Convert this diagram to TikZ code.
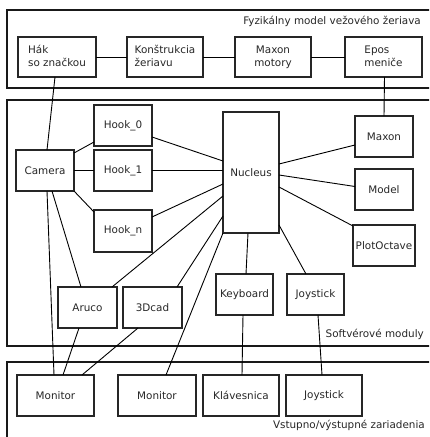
\documentclass[tikz,border=0pt]{standalone}
\usepackage{fontspec}
\setmainfont{DejaVu Sans}
\usetikzlibrary{calc}
\begin{document}
\begin{tikzpicture}[x=1pt,y=-1pt,
  box/.style={draw=black!85, line width=1.2pt, inner sep=0pt, outer sep=0pt, anchor=north west, align=center,
    font=\fontsize{10.4}{13}\selectfont, text=black!85},
  lbl/.style={inner sep=0pt, anchor=east, font=\fontsize{10.4}{13}\selectfont, text=black!85},
  frame/.style={draw=black!90, line width=2.6pt},
  conn/.style={draw=black, line width=0.9pt}]
\path[use as bounding box] (0,0) rectangle (429,437);
\begin{scope}
  \clip (0,0) rectangle (429,437);
  \draw[frame] (7,10) rectangle (445,88);
  \draw[frame] (7,100) rectangle (445,346);
  \draw[frame] (7,362) rectangle (445,460);
\end{scope}
\node[lbl] (t1) at (421,21) {Fyzikálny model vežového žeriava};
\node[lbl] (t2) at (424,334) {Softvérové moduly};
\node[lbl] (t3) at (425,425) {Vstupno/výstupné zariadenia};
% top row
\node[box, minimum width=78, minimum height=40] (hak) at (18,37) {\begin{tabular}{@{}l@{}}Hák\\so značkou\end{tabular}};
\node[box, minimum width=76, minimum height=40] (konst) at (127,37) {\begin{tabular}{@{}l@{}}Konštrukcia\\žeriavu\end{tabular}};
\node[box, minimum width=76, minimum height=40] (motory) at (235,37) {Maxon\\motory};
\node[box, minimum width=77, minimum height=40] (epos) at (345,37) {\begin{tabular}{@{}l@{}}Epos\\meniče\end{tabular}};
% software modules
\node[box, minimum width=58, minimum height=41] (hook0) at (94,105) {Hook\_0};
\node[box, minimum width=58, minimum height=41] (hook1) at (94,150) {Hook\_1};
\node[box, minimum width=58, minimum height=42] (hookn) at (94,210) {Hook\_n};
\node[box, minimum width=58, minimum height=41] (camera) at (16,150) {Camera};
\node[box, minimum width=56, minimum height=121] (nucleus) at (223,112) {Nucleus};
\node[box, minimum width=58, minimum height=41] (maxon) at (355,116) {Maxon};
\node[box, minimum width=58, minimum height=41] (model) at (355,169) {Model};
\node[box, minimum width=62, minimum height=41] (plot) at (353,225) {PlotOctave};
\node[box, minimum width=59, minimum height=41] (aruco) at (58,287) {Aruco};
\node[box, minimum width=59, minimum height=41] (dcad) at (123,287) {3Dcad};
\node[box, minimum width=57, minimum height=41] (keyboard) at (216,274) {Keyboard};
\node[box, minimum width=57, minimum height=41] (joystick) at (287,274) {Joystick};
% devices
\node[box, minimum width=77, minimum height=41] (mon1) at (17,375) {Monitor};
\node[box, minimum width=78, minimum height=41] (mon2) at (118,375) {Monitor};
\node[box, minimum width=76, minimum height=41] (klav) at (203,375) {Klávesnica};
\node[box, minimum width=76, minimum height=41] (joyio) at (286,375) {Joystick};
% connectors
\draw[conn] (hak.east) -- (konst.west);
\draw[conn] (konst.east) -- (motory.west);
\draw[conn] (motory.east) -- (epos.west);
\draw[conn] ($(hak.south)+(-2,0)$) -- ($(camera.north)+(2,0)$);
\draw[conn] ($(epos.south)+(1,0)$) -- (maxon.north);
\draw[conn] ($(camera.north east)+(0,3)$) -- ($(hook0.south west)+(0,-4)$);
\draw[conn] (camera.east) -- (hook1.west);
\draw[conn] (camera.south east) -- ($(hookn.north west)+(0,2)$);
\draw[conn] ($(hook0.east)+(0,11.5)$) -- ($(nucleus.west)+(0,-11.5)$);
\draw[conn] (hook1.east) -- (nucleus.west |- hook1.east);
\draw[conn] ($(hookn.east)+(0,-14)$) -- ($(nucleus.west)+(0,11.5)$);
\draw[conn] ($(aruco.north east)+(-5,0)$) -- ($(nucleus.west)+(0,23.5)$);
\draw[conn] ($(dcad.north east)+(-5,0)$) -- ($(nucleus.west)+(0,43.5)$);
\draw[conn] ($(mon2.north)+(9,0)$) -- (nucleus.south west);
\draw[conn] ($(nucleus.south)+(-3,0)$) -- ($(keyboard.north)+(1.5,0)$);
\draw[conn] ($(nucleus.east)+(0,52.5)$) -- ($(joystick.north)+(-9.5,0)$);
\draw[conn] ($(nucleus.east)+(0,-8.5)$) -- ($(maxon.west)+(0,8.5)$);
\draw[conn] ($(nucleus.east)+(0,2.5)$) -- ($(model.west)+(0,-3)$);
\draw[conn] ($(nucleus.east)+(0,14.5)$) -- ($(plot.north west)+(0,1)$);
\draw[conn] ($(camera.south)+(2,0)$) -- ($(mon1.north)+(-1.5,0)$);
\draw[conn] ($(camera.south)+(7,0)$) -- ($(aruco.north)+(-6.5,0)$);
\draw[conn] ($(aruco.south)+(-8.5,0)$) -- ($(mon1.north)+(7.5,0)$);
\draw[conn] ($(dcad.south)+(-14.5,0)$) -- ($(mon1.north)+(26.5,0)$);
\draw[conn] ($(keyboard.south)+(-1.5,0)$) -- ($(klav.north)+(1,0)$);
\draw[conn] ($(joystick.south)+(2.5,0)$) -- ($(joyio.north)+(-2,0)$);
\end{tikzpicture}
\end{document}
